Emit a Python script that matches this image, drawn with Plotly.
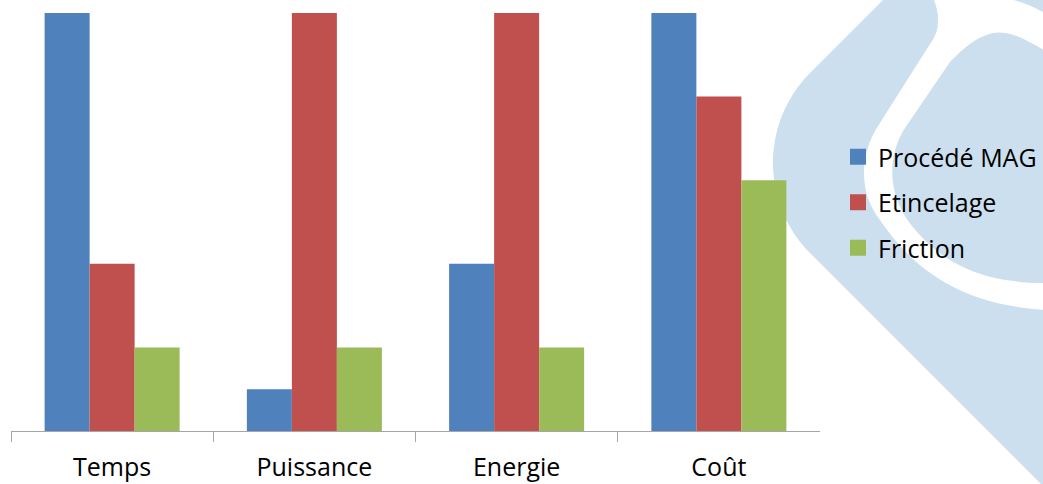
import plotly.graph_objects as go

categories = ["Temps", "Puissance", "Energie", "Coût"]
series_names = ["Procédé MAG", "Etincelage", "Friction"]
mag_values = [10, 1, 4, 10]
etincelage_values = [4, 10, 10, 8]
friction_values = [2, 2, 2, 6]
colors = ["#4F81BD", "#C0504D", "#9BBB59"]

W, H = 1043, 484


def to_paper(cmds):
    """cmds: list of (letter, [x1,y1,x2,y2,...]) in pixel coords (y down)."""
    out = []
    for letter, pts in cmds:
        coords = []
        for i in range(0, len(pts), 2):
            coords.append(f"{pts[i] / W:.5f},{1 - pts[i + 1] / H:.5f}")
        out.append(letter + " ".join(coords))
    return " ".join(out) + " Z"


outer_path = to_paper([
    ("M", [883, 0]),
    ("L", [810.5, 72.5]),
    ("C", [760.5, 122.5, 760.5, 203.5, 810.5, 253.5]),
    ("L", [1041, 484]),
    ("L", [1050, 484]),
    ("L", [1050, 0]),
])
band_path = to_paper([
    ("M", [934, 0]),
    ("Q", [944, 26, 930, 44]),
    ("L", [878, 126]),
    ("C", [860, 154, 858, 192, 880, 220]),
    ("C", [906, 258, 950, 306, 1050, 310]),
    ("L", [1050, 16]),
    ("Q", [1030, 4, 1013, 0]),
])
inner_path = to_paper([
    ("M", [1050, 54]),
    ("C", [1025, 38, 1008, 30, 993, 33]),
    ("C", [975, 37, 962, 50, 950, 62]),
    ("L", [905, 128]),
    ("C", [886, 158, 888, 196, 912, 226]),
    ("C", [938, 258, 975, 284, 1050, 283]),
])

shape_color = "#CCDFEE"
shapes = [
    dict(type="path", path=outer_path, xref="paper", yref="paper",
         fillcolor=shape_color, line=dict(width=0), layer="below"),
    dict(type="path", path=band_path, xref="paper", yref="paper",
         fillcolor="white", line=dict(width=0), layer="below"),
    dict(type="path", path=inner_path, xref="paper", yref="paper",
         fillcolor=shape_color, line=dict(width=0), layer="below"),
]

fig = go.Figure()
for name, vals, col in zip(series_names, [mag_values, etincelage_values, friction_values], colors):
    fig.add_trace(go.Bar(x=categories, y=vals, name=name, marker_color=col,
                         marker_line_width=0, showlegend=False))
# legend entries with larger square swatches
for name, col in zip(series_names, colors):
    fig.add_trace(go.Scatter(x=[None], y=[None], mode="markers", name=name,
                             marker=dict(symbol="square", size=16, color=col),
                             legendgroup=name, showlegend=True, hoverinfo="skip"))

font_family = "'Open Sans', sans-serif"
fig.update_layout(
    width=W, height=H,
    margin=dict(l=0, r=0, t=0, b=0),
    paper_bgcolor="white",
    plot_bgcolor="rgba(0,0,0,0)",
    barmode="group",
    bargap=0.3325,
    bargroupgap=0,
    shapes=shapes,
    font=dict(family=font_family, color="#000000"),
    xaxis=dict(
        domain=[11 / W, 820 / W],
        type="category",
        tickson="boundaries",
        ticks="outside",
        ticklen=10,
        tickcolor="#A6A6A6",
        showline=True,
        linecolor="#A6A6A6",
        linewidth=1,
        showgrid=False,
        tickfont=dict(size=25, family=font_family, color="#000000"),
        ticklabelstandoff=14,
        automargin=False,
    ),
    yaxis=dict(
        domain=[1 - 431 / H, 1 - 13 / H],
        range=[0, 10],
        visible=False,
        showgrid=False,
        zeroline=False,
    ),
    legend=dict(
        x=838 / W, y=1 - 134 / H, xanchor="left", yanchor="top",
        bgcolor="rgba(0,0,0,0)",
        font=dict(size=25, family=font_family, color="#000000"),
        tracegroupgap=10,
        traceorder="grouped",
        itemsizing="trace",
    ),
    showlegend=True,
)

fig.write_html(
    "out.html",
    config={"displayModeBar": False},
    post_script="document.body.style.margin='0px';document.body.style.overflow='hidden';",
)
